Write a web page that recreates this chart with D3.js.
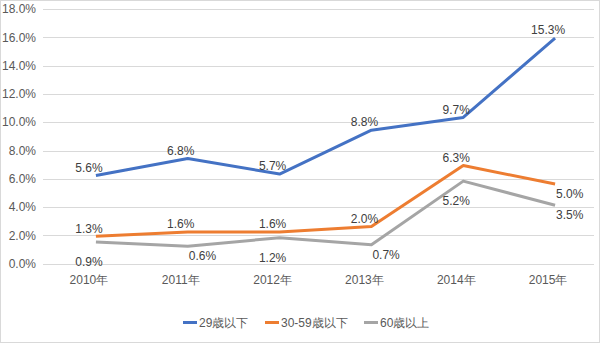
<!DOCTYPE html>
<html><head><meta charset="utf-8">
<script src="https://cdn.jsdelivr.net/npm/d3@7"></script>
<style>body{margin:0;background:#fff}svg{display:block;font-family:"Liberation Sans",Arial,sans-serif}</style>
</head><body><svg id="c" width="600" height="343"></svg>
<script>
const categories = ["2010年","2011年","2012年","2013年","2014年","2015年"];
const seriesNames = ["29歳以下","30-59歳以下","60歳以上"];
const under29 = [5.6, 6.8, 5.7, 8.8, 9.7, 15.3];
const age30to59 = [1.3, 1.6, 1.6, 2.0, 6.3, 5.0];
const over60 = [0.9, 0.6, 1.2, 0.7, 5.2, 3.5];
const yTicks = [0, 2, 4, 6, 8, 10, 12, 14, 16, 18];
// label placement (Excel-style: above / below / right)
const labelPlace = [
  ["a","a","a","a","a","a"],
  ["a","a","a","a","a","r"],
  ["b","r","b","r","b","r"]
];
const colors = ["#4472C4","#ED7D31","#A5A5A5"];
const allSeries = [under29, age30to59, over60];

const svg = d3.select("#c");
const W = 600, H = 343;
const L = 43, R = 594, T = 9, B = 263.7;

svg.append("rect").attr("x",0.5).attr("y",0.5).attr("width",W-1).attr("height",H-1)
  .attr("fill","#fff").attr("stroke","#d9d9d9");

const x = d3.scaleBand().domain(categories).range([L, R]);
const y = d3.scaleLinear().domain([0, 18]).range([B, T]);
const cx = c => x(c) + x.bandwidth()/2;

// gridlines
svg.append("g").selectAll("line").data(yTicks).join("line")
  .attr("x1", L).attr("x2", R)
  .attr("y1", d => Math.round(y(d)) + 0.5).attr("y2", d => Math.round(y(d)) + 0.5)
  .attr("stroke", "#d9d9d9").attr("stroke-width", 1);

// y axis labels
svg.append("g").selectAll("text").data(yTicks).join("text")
  .attr("x", 36).attr("y", d => y(d)).attr("dy", "0.35em")
  .attr("text-anchor", "end").attr("font-size", 12).attr("fill", "#595959")
  .text(d => d.toFixed(1) + "%");

// x axis labels
svg.append("g").selectAll("text").data(categories).join("text")
  .attr("x", d => cx(d)).attr("y", 279.5).attr("dy", "0.35em")
  .attr("text-anchor", "middle").attr("font-size", 12).attr("fill", "#595959")
  .text(d => d);

// lines (rendered offset as in the reference)
const lineG = svg.append("g").attr("transform", "translate(7,-9)");
const line = d3.line().x((d,i) => cx(categories[i])).y(d => y(d));
allSeries.forEach((s, k) => {
  lineG.append("path").datum(s).attr("d", line)
    .attr("fill", "none").attr("stroke", colors[k]).attr("stroke-width", 3)
    .attr("stroke-linejoin", "round").attr("stroke-linecap", "butt");
});

// data labels
const lblG = svg.append("g");
allSeries.forEach((s, k) => {
  s.forEach((v, i) => {
    const p = labelPlace[k][i];
    const px = cx(categories[i]), py = y(v);
    let tx = px, ty = py, anchor = "middle";
    if (p === "a") ty = py - 17;
    else if (p === "b") ty = py + 11;
    else if (p === "r") { tx = px + 8; anchor = "start"; ty = py + 1; }
    lblG.append("text").attr("x", tx).attr("y", ty).attr("dy", "0.35em")
      .attr("text-anchor", anchor).attr("font-size", 12).attr("fill", "#404040")
      .text(v.toFixed(1) + "%");
  });
});

// legend
const legX = [183, 265, 364];
const leg = svg.append("g");
seriesNames.forEach((n, k) => {
  leg.append("line").attr("x1", legX[k]).attr("x2", legX[k] + 14)
    .attr("y1", 322.5).attr("y2", 322.5).attr("stroke", colors[k]).attr("stroke-width", 3);
  leg.append("text").attr("x", legX[k] + 16).attr("y", 322.5).attr("dy", "0.35em")
    .attr("font-size", 12).attr("fill", "#595959").text(n);
});
</script></body></html>
